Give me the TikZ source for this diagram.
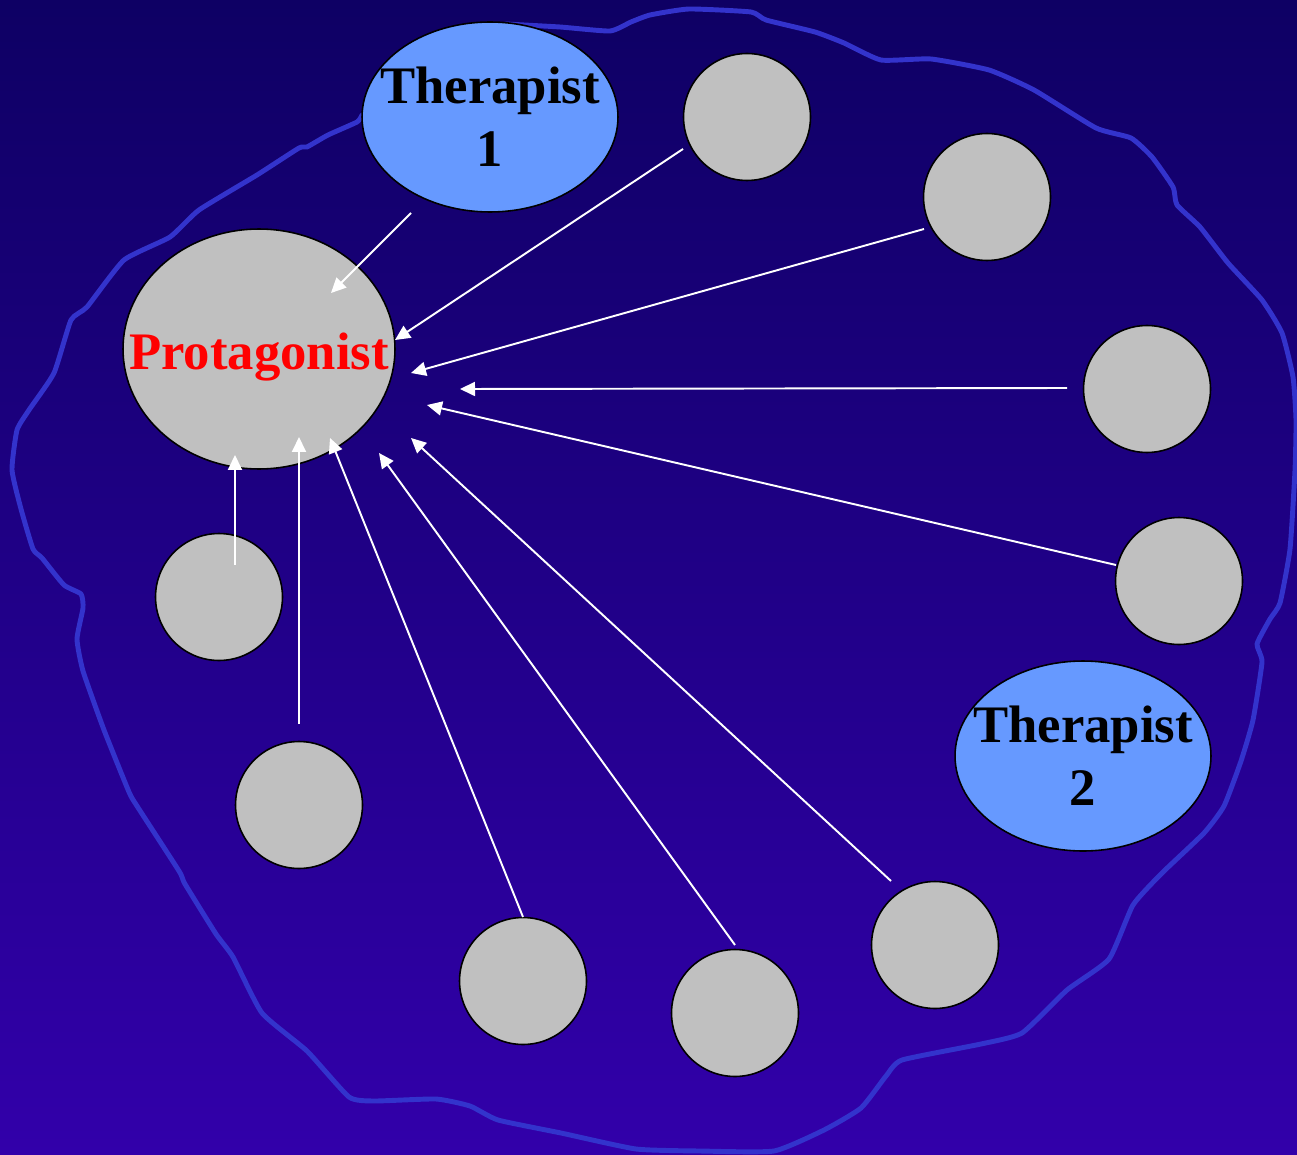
\documentclass[tikz,border=0pt]{standalone}
\usepackage{fontspec}
\setmainfont{Liberation Serif}
\usetikzlibrary{shapes.geometric, arrows.meta, calc}
\definecolor{bgtop}{RGB}{14,0,100}
\definecolor{bgbottom}{RGB}{50,0,170}
\definecolor{ringcolor}{RGB}{51,51,204}
\definecolor{therapistcolor}{RGB}{102,153,255}
\definecolor{membercolor}{RGB}{192,192,192}

\begin{document}
\begin{tikzpicture}[
    x=0.02cm, y=-0.02cm,
    member/.style={circle, draw=black, line width=0.9pt, fill=membercolor, minimum size=2.54cm, inner sep=0pt},
    therapist/.style={ellipse, draw=black, line width=0.9pt, fill=therapistcolor, minimum width=5.12cm, minimum height=3.8cm, inner sep=0pt},
    protagonist/.style={ellipse, draw=black, line width=0.9pt, fill=membercolor, minimum width=5.44cm, minimum height=4.8cm, inner sep=0pt},
    nametext/.style={font=\bfseries\fontsize{30}{36}\selectfont, align=center, inner sep=0pt},
    arrow/.style={-{Triangle[length=0.3cm, width=0.28cm]}, white, line width=1.1pt},
    ring/.style={ringcolor, line width=2.8pt, line join=round, line cap=round}
]

    % Background
    \useasboundingbox (0,0) rectangle (1297,1155);
    \fill[top color=bgtop, bottom color=bgbottom] (0,0) rectangle (1297,1155);

    % Group boundary (hand drawn)
    \draw[ring] plot[smooth, tension=0.3] coordinates {
        (506,24) (560,27) (610,31) (631,22) (650,15) (689,9) (751,12) (766,20)
        (815,32) (844,43) (881,60) (931,59) (989,70) (1034,90) (1096,128) (1131,138)
        (1152,157) (1173,187) (1177,205) (1200,227) (1228,263) (1262,300) (1282,333)
        (1293,377) (1296,420) (1295,470) (1290,549) (1280,603) (1270,619) (1257,644)
        (1262,662) (1253,720) (1241,761) (1224,806) (1204,833) (1162,873) (1133,905)
        (1109,959) (1067,990) (1022,1033) (981,1044) (902,1060) (886,1076) (861,1108)
        (824,1130) (774,1151) (700,1151) (636,1149) (561,1133) (498,1120) (470,1106)
        (436,1099) (374,1101) (349,1097) (307,1051) (262,1013) (233,957) (216,934)
        (185,884) (179,871) (137,806) (129,792) (104,730) (83,671) (77,639) (83,608)
        (81,594) (64,585) (42,558) (33,549) (21,509) (12,470) (17,430) (29,410)
        (54,373) (71,320) (87,307) (124,260) (170,237) (199,210) (257,175) (299,148)
        (307,147) (328,135) (357,122) (362,115)};

    % Protagonist and therapists
    \node[protagonist] (prot) at (259,349) {};
    \node[nametext, text=red, anchor=base] (protname) at ([yshift=-0.42cm]prot.center) {Protagonist};
    \node[therapist] (ther1) at (490,117) {};
    \node[nametext] (ther1name) at (ther1) {Therapist\\1};
    \node[therapist] (ther2) at (1083,756) {};
    \node[nametext] (ther2name) at (ther2) {Therapist\\2};

    % Group members
    \node[member] (m1) at (747,117) {};
    \node[member] (m2) at (987,197) {};
    \node[member] (m3) at (1147,389) {};
    \node[member] (m4) at (1179,581) {};
    \node[member] (m5) at (935,945) {};
    \node[member] (m6) at (735,1013) {};
    \node[member] (m7) at (523,981) {};
    \node[member] (m8) at (299,805) {};
    \node[member] (m9) at (219,597) {};

    % Arrow heads around the protagonist
    \coordinate (h0) at (331,293);
    \coordinate (h1) at (395,340);
    \coordinate (h2) at (411,373);
    \coordinate (h3) at (460,389);
    \coordinate (h4) at (427,405);
    \coordinate (h5) at (411,438);
    \coordinate (h6) at (379,453);
    \coordinate (h7) at (330,438);
    \coordinate (h8) at (299,437);
    \coordinate (h9) at (235,455);

    % Arrows towards the protagonist
    \draw[arrow] ($(ther1)+(-79,96)$) -- (h0);
    \draw[arrow] ($(m1)+(-64,32)$) -- (h1);
    \draw[arrow] ($(m2)+(-63,32)$) -- (h2);
    \draw[arrow] ($(m3)+(-80,-1)$) -- (h3);
    \draw[arrow] ($(m4)+(-63,-16)$) -- (h4);
    \draw[arrow] ($(m5)+(-44,-64)$) -- (h5);
    \draw[arrow] ($(m6)+(0,-68)$) -- (h6);
    \draw[arrow] ($(m7)+(0,-64)$) -- (h7);
    \draw[arrow] ($(m8)+(0,-81)$) -- (h8);
    \draw[arrow] ($(m9)+(16,-32)$) -- (h9);

\end{tikzpicture}
\end{document}
